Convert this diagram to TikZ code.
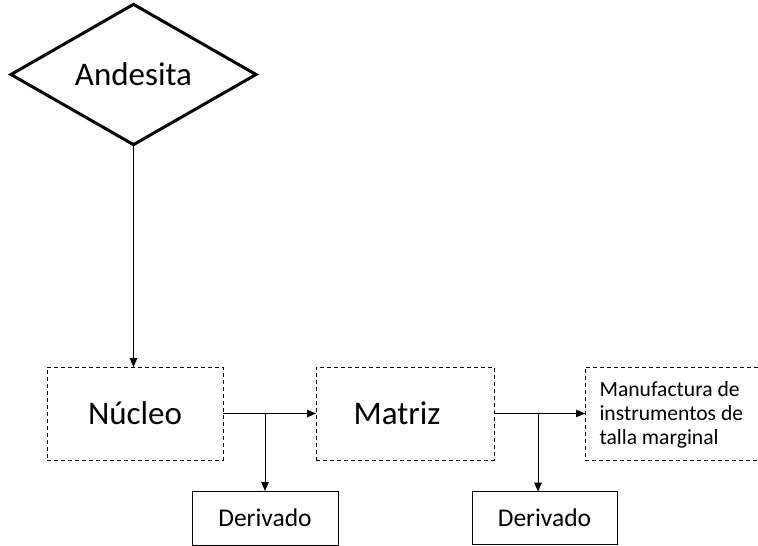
\documentclass[tikz,border=0pt]{standalone}
\usepackage{fontspec}
\setmainfont{Carlito}
\usetikzlibrary{shapes.geometric,arrows.meta}
\begin{document}
\begin{tikzpicture}[x=1pt,y=-1pt,
  dashbox/.style={draw, dash pattern=on 4pt off 3pt, line width=1pt, inner sep=0pt, outer sep=0pt},
  dashline/.style={dash pattern=on 4pt off 3pt, line width=1pt},
  solidbox/.style={draw, line width=1pt, inner sep=0pt, outer sep=0pt},
  link/.style={line width=1pt, -{Triangle[length=9pt,width=7.5pt]}},
  bigtext/.style={font=\fontsize{33}{38}\selectfont},
  smalltext/.style={font=\fontsize{25.5}{30}\selectfont},
  listtext/.style={font=\fontsize{21.6}{24}\selectfont},
  ]
\useasboundingbox (0,0) rectangle (758,546);

% source material
\node[diamond, draw, line width=3pt, minimum width=245pt, minimum height=135pt,
      inner sep=0pt, outer sep=0pt, bigtext] (andesita) at (133.5,74.5) {Andesita};

% reduction sequence
\node[dashbox, minimum width=176pt, minimum height=93pt, bigtext] (nucleo) at (135,413.5) {Núcleo};
\node[dashbox, minimum width=178pt, minimum height=93pt] (matriz) at (405,413.5) {};
\node[bigtext] (matriztxt) at (397,413) {Matriz};
% open-ended frame for the final product, running off the right side
\node[minimum width=173pt, minimum height=93pt, inner sep=0pt, outer sep=0pt] (manuf) at (671.5,413.5) {};
\draw[dashline] (manuf.north east) -- (manuf.north west) -- (manuf.south west) -- (manuf.south east);
\node[listtext, anchor=west, align=left] (manuftxt) at (596,415)
  {Manufactura de\\instrumentos de\\talla marginal};

% by-products
\node[solidbox, minimum width=146pt, minimum height=54pt, smalltext] (deriv1) at (265,518) {Derivado};
\node[solidbox, minimum width=145pt, minimum height=53pt, smalltext] (deriv2) at (544.5,518) {Derivado};
\coordinate (b2) at (538,413.5);
\coordinate (d2) at (538,491.5);

% connectors
\draw[link] (andesita.south) -- (andesita.south |- nucleo.north);
\draw[link] (nucleo.east) -- (matriz.west);
\draw[link] (nucleo.east -| deriv1.north) -- (deriv1.north);
\draw[link] (matriz.east) -- (manuf.west);
\draw[link] (b2) -- (d2);
\end{tikzpicture}
\end{document}
